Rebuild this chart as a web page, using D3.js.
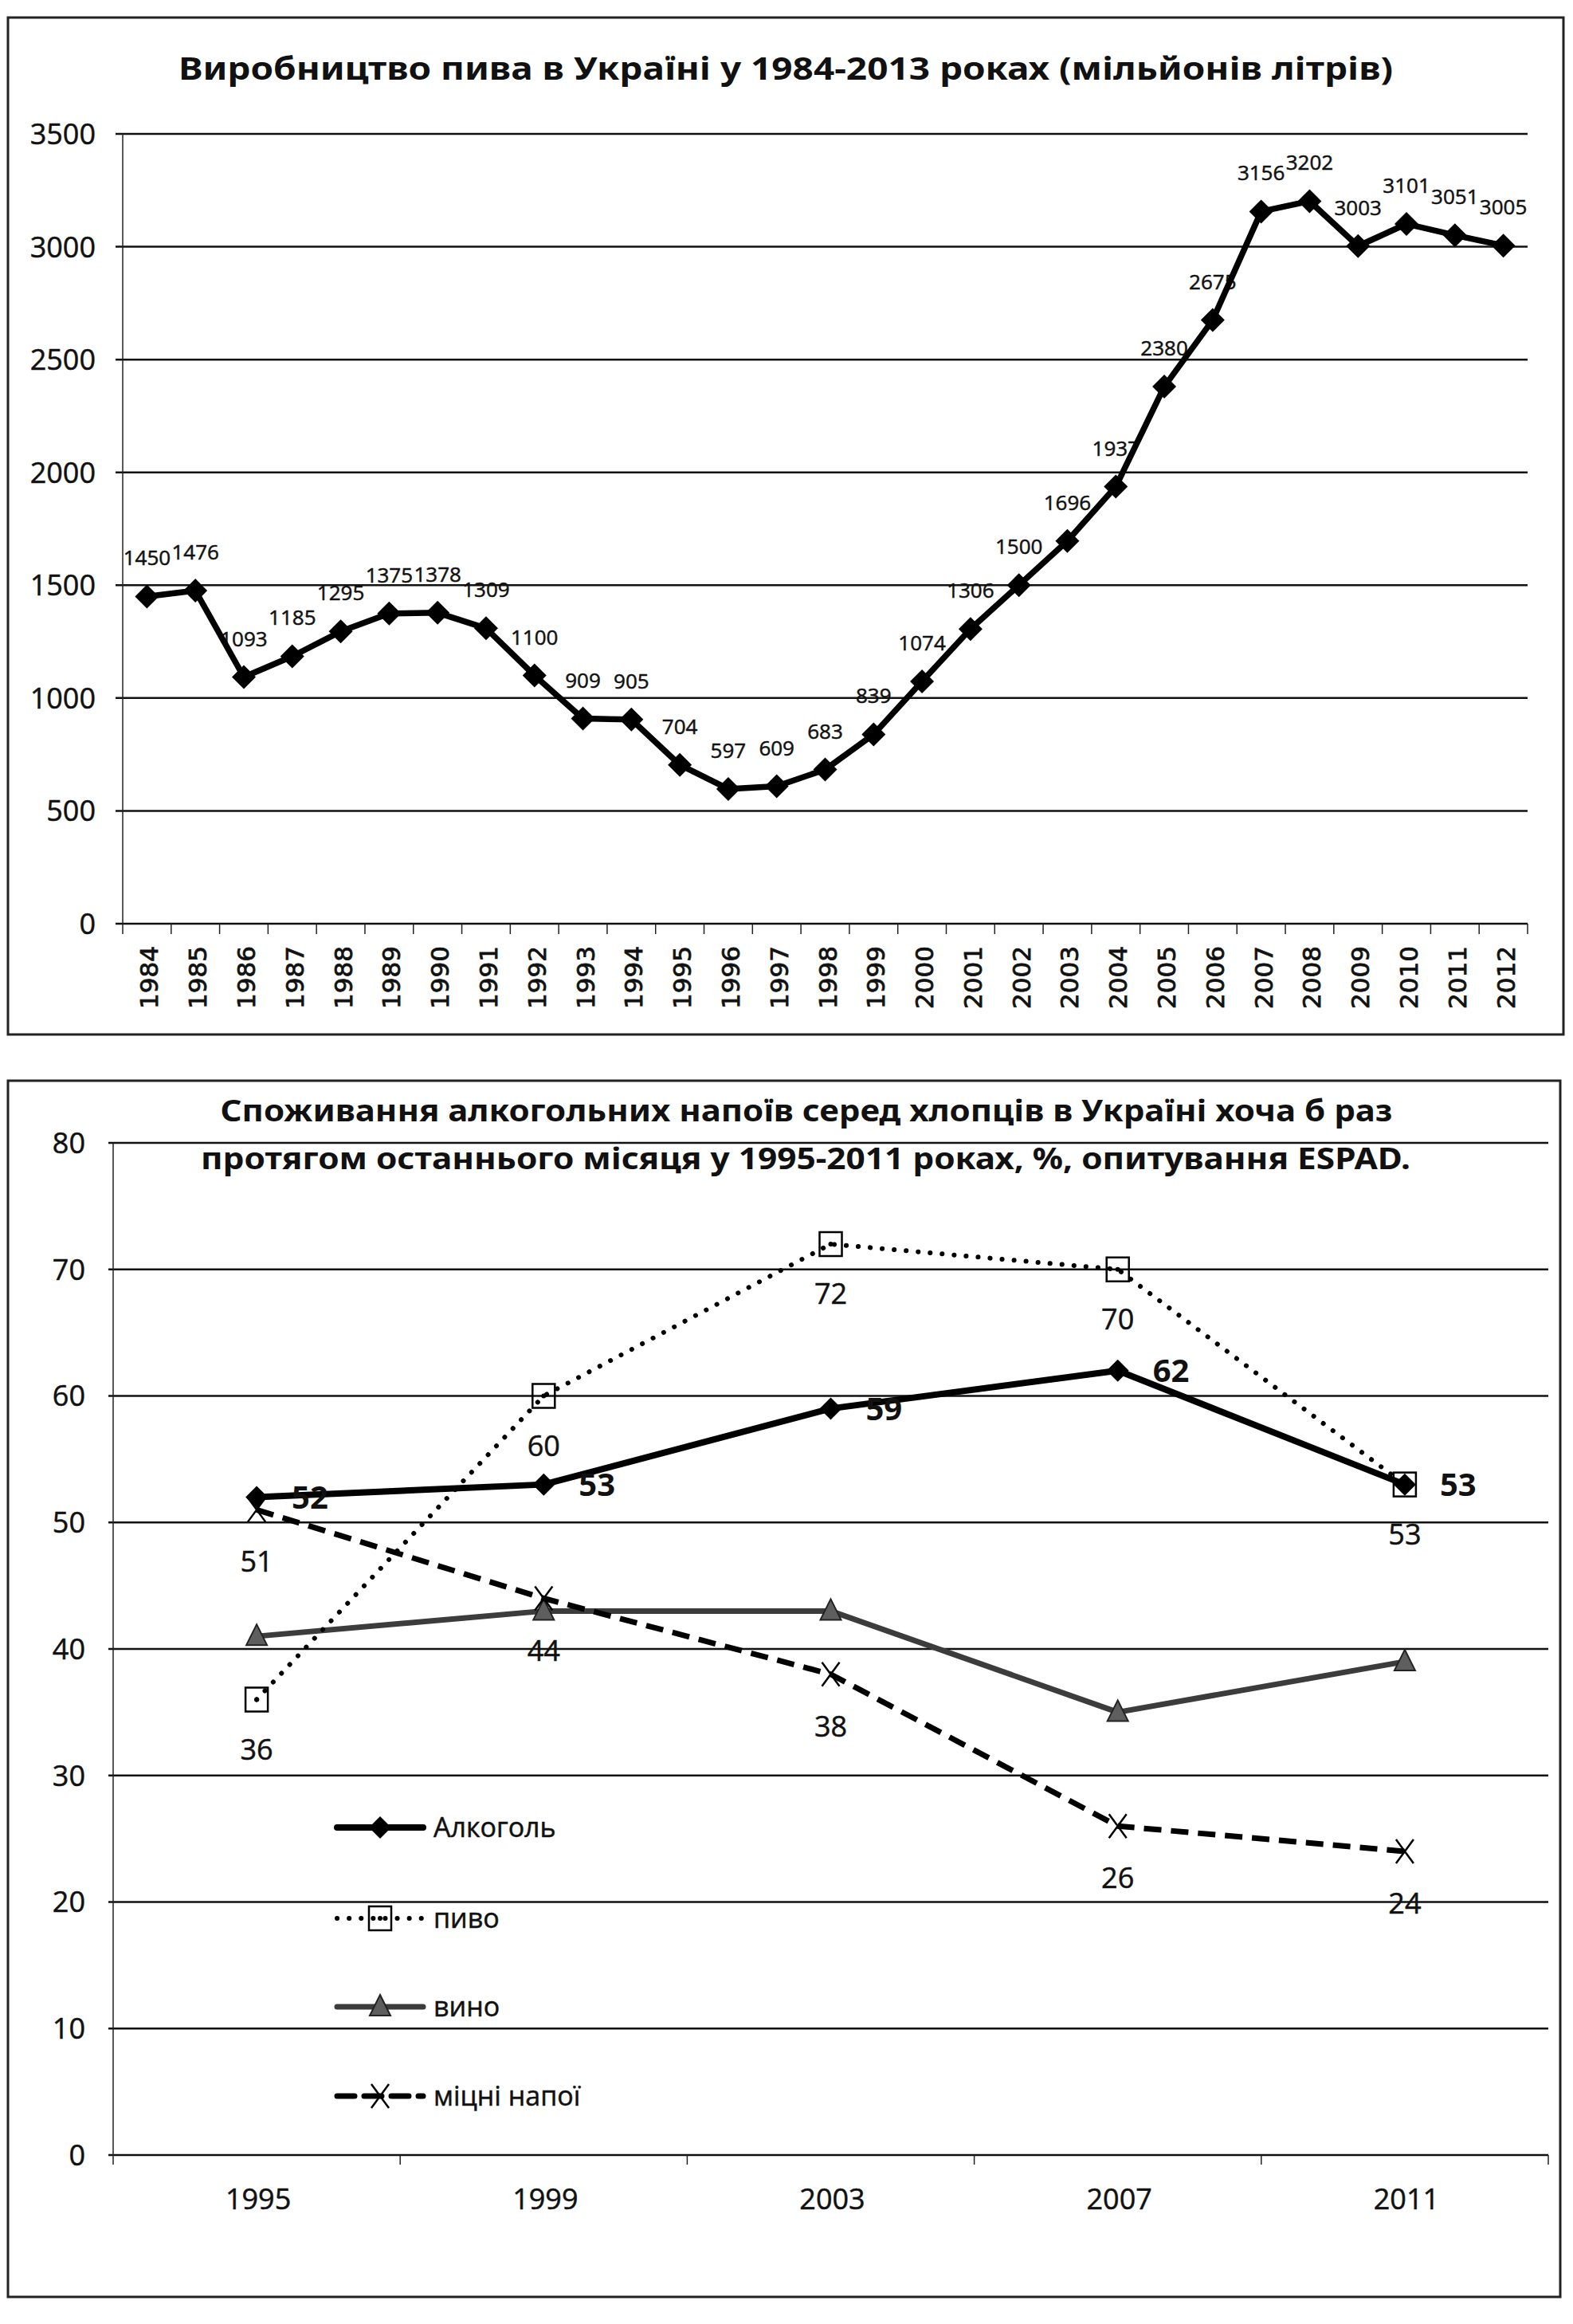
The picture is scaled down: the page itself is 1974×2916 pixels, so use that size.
<!DOCTYPE html>
<html>
<head>
<meta charset="utf-8">
<script src="https://cdnjs.cloudflare.com/ajax/libs/d3/7.8.5/d3.min.js"></script>
<style>
body { margin: 0; background: #fff; }
svg { display: block; }
text { fill: #111; }
</style>
</head>
<body>
<script>
// ---- data: beer production, mln litres ----
const beerYears = ["1984","1985","1986","1987","1988","1989","1990","1991","1992","1993",
  "1994","1995","1996","1997","1998","1999","2000","2001","2002","2003",
  "2004","2005","2006","2007","2008","2009","2010","2011","2012"];
const beerValues = [1450,1476,1093,1185,1295,1375,1378,1309,1100,909,
  905,704,597,609,683,839,1074,1306,1500,1696,
  1937,2380,2675,3156,3202,3003,3101,3051,3005];
const beerTicks = [0,500,1000,1500,2000,2500,3000,3500];

// ---- data: ESPAD survey, boys, % ----
const surveyYears = ["1995","1999","2003","2007","2011"];
const alcohol = [52,53,59,62,53];
const beer = [36,60,72,70,53];
const wine = [41,43,43,35,39];
const spirits = [51,44,38,26,24];
const surveyTicks = [0,10,20,30,40,50,60,70,80];
const legendNames = ["Алкоголь","пиво","вино","міцні напої"];

const title1 = "Виробництво пива в Україні у 1984-2013 роках (мільйонів літрів)";
const title2a = "Споживання алкогольних напоїв серед хлопців в Україні хоча б раз";
const title2b = "протягом останнього місяця у 1995-2011 роках, %, опитування ESPAD.";

const W = 1974, H = 2916;
const svg = d3.select("body").append("svg").attr("width", W).attr("height", H);
svg.append("rect").attr("width", W).attr("height", H).attr("fill", "#fff");

// diamond = square turned 45 degrees
function diamond(r) {
  return `M0,${-r}L${r},0L0,${r}L${-r},0Z`;
}

// =================== chart 1 ===================
svg.append("rect").attr("x", 10).attr("y", 22).attr("width", 1952).attr("height", 1276)
  .attr("fill", "none").attr("stroke", "#222").attr("stroke-width", 3);

svg.append("text").attr("x", 986).attr("y", 100).attr("text-anchor", "middle")
  .attr("font-family", "Noto Sans").attr("font-weight", "bold").attr("font-size", 40)
  .attr("textLength", 1524).attr("lengthAdjust", "spacingAndGlyphs")
  .text(title1);

const x1 = d3.scaleBand().domain(beerYears).range([154, 1917]);
const y1 = d3.scaleLinear().domain([0, 3500]).range([1159, 168]);
const bw1 = x1.bandwidth();
const g1 = svg.append("g");

g1.selectAll(".grid").data(beerTicks).enter().append("line")
  .attr("x1", 145).attr("x2", 1917)
  .attr("y1", d => y1(d)).attr("y2", d => y1(d))
  .attr("stroke", "#111").attr("stroke-width", 2.5);

g1.append("line").attr("x1", 154).attr("x2", 154).attr("y1", y1(3500)).attr("y2", y1(0))
  .attr("stroke", "#222").attr("stroke-width", 1.5);

g1.selectAll(".ylab").data(beerTicks).enter().append("text")
  .attr("x", 120).attr("y", d => y1(d)).attr("dy", "0.36em").attr("text-anchor", "end")
  .attr("font-family", "Open Sans").attr("font-size", 36)
  .attr("stroke", "#111").attr("stroke-width", 0.5)
  .text(d => d);

// category boundary ticks under the zero line
const bounds1 = beerYears.map(d => x1(d)).concat([x1.range()[1]]);
g1.selectAll(".xtick").data(bounds1).enter().append("line")
  .attr("x1", d => d).attr("x2", d => d).attr("y1", y1(0)).attr("y2", y1(0) + 13)
  .attr("stroke", "#222").attr("stroke-width", 1.5);

g1.selectAll(".xlab").data(beerYears).enter().append("text")
  .attr("transform", d => `translate(${x1(d) + bw1 / 2 + 3},1187) rotate(-90)`)
  .attr("text-anchor", "end").attr("dominant-baseline", "central")
  .attr("font-family", "DejaVu Sans").attr("font-size", 31)
  .attr("stroke", "#111").attr("stroke-width", 0.8)
  .text(d => d);

// data labels first, the line runs over them as in the scan
g1.selectAll(".vlab").data(beerValues).enter().append("text")
  .attr("x", (d, i) => x1(beerYears[i]) + bw1 / 2)
  .attr("y", d => y1(d) - 39)
  .attr("text-anchor", "middle")
  .attr("font-family", "Open Sans").attr("font-size", 26)
  .attr("stroke", "#111").attr("stroke-width", 0.5)
  .text(d => d);

const line1 = d3.line()
  .x((d, i) => x1(beerYears[i]) + bw1 / 2)
  .y(d => y1(d));

g1.append("path").datum(beerValues).attr("d", line1)
  .attr("fill", "none").attr("stroke", "#000").attr("stroke-width", 7.5)
  .attr("stroke-linejoin", "round");

g1.selectAll(".pt").data(beerValues).enter().append("path")
  .attr("transform", (d, i) => `translate(${x1(beerYears[i]) + bw1 / 2},${y1(d)})`)
  .attr("d", diamond(15)).attr("fill", "#000");

// =================== chart 2 ===================
svg.append("rect").attr("x", 10).attr("y", 1356).attr("width", 1948).attr("height", 1526)
  .attr("fill", "none").attr("stroke", "#222").attr("stroke-width", 3);

const x2 = d3.scaleBand().domain(surveyYears).range([142, 1943]);
const y2 = d3.scaleLinear().domain([0, 80]).range([2704, 1434]);
const bw2 = x2.bandwidth();
const cx = i => x2(surveyYears[i]) + bw2 / 2;
const g2 = svg.append("g");

g2.selectAll(".grid").data(surveyTicks).enter().append("line")
  .attr("x1", 136).attr("x2", 1943)
  .attr("y1", d => y2(d)).attr("y2", d => y2(d))
  .attr("stroke", "#111").attr("stroke-width", 2.5);

g2.append("line").attr("x1", 142).attr("x2", 142).attr("y1", y2(80)).attr("y2", y2(0))
  .attr("stroke", "#222").attr("stroke-width", 1.5);

g2.selectAll(".ylab").data(surveyTicks).enter().append("text")
  .attr("x", 107).attr("y", d => y2(d)).attr("dy", "0.36em").attr("text-anchor", "end")
  .attr("font-family", "Open Sans").attr("font-size", 36)
  .attr("stroke", "#111").attr("stroke-width", 0.5)
  .text(d => d);

const bounds2 = surveyYears.map(d => x2(d)).concat([x2.range()[1]]);
g2.selectAll(".xtick").data(bounds2).enter().append("line")
  .attr("x1", d => d).attr("x2", d => d).attr("y1", y2(0)).attr("y2", y2(0) + 12)
  .attr("stroke", "#222").attr("stroke-width", 1.5);

g2.selectAll(".xlab").data(surveyYears).enter().append("text")
  .attr("x", d => x2(d) + bw2 / 2 + 2).attr("y", 2772).attr("text-anchor", "middle")
  .attr("font-family", "Open Sans").attr("font-size", 36)
  .attr("stroke", "#111").attr("stroke-width", 0.5)
  .text(d => d);

svg.append("text").attr("x", 1012).attr("y", 1407).attr("text-anchor", "middle")
  .attr("font-family", "Noto Sans").attr("font-weight", "bold").attr("font-size", 38)
  .attr("textLength", 1471).attr("lengthAdjust", "spacingAndGlyphs")
  .text(title2a);
svg.append("text").attr("x", 1011).attr("y", 1467).attr("text-anchor", "middle")
  .attr("font-family", "Noto Sans").attr("font-weight", "bold").attr("font-size", 38)
  .attr("textLength", 1518).attr("lengthAdjust", "spacingAndGlyphs")
  .text(title2b);

const line2 = d3.line().x((d, i) => cx(i)).y(d => y2(d));

// styles per series
const styles = {
  alcohol: { stroke: "#000", width: 8, dash: null, cap: "butt" },
  beer: { stroke: "#000", width: 6, dash: "0.1 15", cap: "round" },
  wine: { stroke: "#3c3c3c", width: 7, dash: null, cap: "butt" },
  spirits: { stroke: "#000", width: 7, dash: "22 12", cap: "butt" }
};

function drawMarker(sel, kind) {
  if (kind === "alcohol") {
    sel.append("path").attr("d", diamond(14)).attr("fill", "#000");
  } else if (kind === "beer") {
    sel.append("rect").attr("x", -14).attr("y", -15).attr("width", 28).attr("height", 30)
      .attr("fill", "none").attr("stroke", "#000").attr("stroke-width", 2.5);
    sel.append("circle").attr("r", 3).attr("fill", "#000");
  } else if (kind === "wine") {
    sel.append("path").attr("d", "M0,-15L13,11L-13,11Z")
      .attr("fill", "#5e5e5e").attr("stroke", "#222").attr("stroke-width", 2);
  } else {
    sel.append("path").attr("d", "M-11,-15L11,15M11,-15L-11,15")
      .attr("fill", "none").attr("stroke", "#000").attr("stroke-width", 2.5);
  }
}

function drawSeries(values, kind) {
  const st = styles[kind];
  g2.append("path").datum(values).attr("d", line2)
    .attr("fill", "none").attr("stroke", st.stroke).attr("stroke-width", st.width)
    .attr("stroke-dasharray", st.dash).attr("stroke-linecap", st.cap)
    .attr("stroke-linejoin", "round");
  g2.selectAll(".m-" + kind).data(values).enter().append("g")
    .attr("transform", (d, i) => `translate(${cx(i)},${y2(d)})`)
    .each(function () { drawMarker(d3.select(this), kind); });
}

drawSeries(wine, "wine");
drawSeries(spirits, "spirits");
drawSeries(beer, "beer");
drawSeries(alcohol, "alcohol");

// data labels
g2.selectAll(".lab-alc").data(alcohol).enter().append("text")
  .attr("x", (d, i) => cx(i) + 44).attr("y", d => y2(d)).attr("dy", "0.36em")
  .attr("font-family", "Open Sans").attr("font-weight", "bold").attr("font-size", 40)
  .text(d => d);
g2.selectAll(".lab-beer").data(beer).enter().append("text")
  .attr("x", (d, i) => cx(i)).attr("y", d => y2(d) + 75).attr("text-anchor", "middle")
  .attr("font-family", "Open Sans").attr("font-size", 36)
  .attr("stroke", "#111").attr("stroke-width", 0.5)
  .text(d => d);
g2.selectAll(".lab-sp").data(spirits).enter().append("text")
  .attr("x", (d, i) => cx(i)).attr("y", d => y2(d) + 78).attr("text-anchor", "middle")
  .attr("font-family", "Open Sans").attr("font-size", 36)
  .attr("stroke", "#111").attr("stroke-width", 0.5)
  .text(d => d);

// legend
const legendKinds = ["alcohol", "beer", "wine", "spirits"];
const legendY = [2293, 2407, 2518, 2630];
legendKinds.forEach((kind, i) => {
  const st = styles[kind];
  const lg = g2.append("g").attr("transform", `translate(0,${legendY[i]})`);
  lg.append("line").attr("x1", 423).attr("x2", 531).attr("y1", 0).attr("y2", 0)
    .attr("stroke", st.stroke).attr("stroke-width", st.width)
    .attr("stroke-dasharray", st.dash).attr("stroke-linecap", "round");
  const m = lg.append("g").attr("transform", "translate(477,0)");
  drawMarker(m, kind);
  lg.append("text").attr("x", 544).attr("y", 0).attr("dy", "0.36em")
    .attr("font-family", "Open Sans").attr("font-size", 34)
    .attr("stroke", "#111").attr("stroke-width", 0.5)
    .text(legendNames[i]);
});
</script>
</body>
</html>
